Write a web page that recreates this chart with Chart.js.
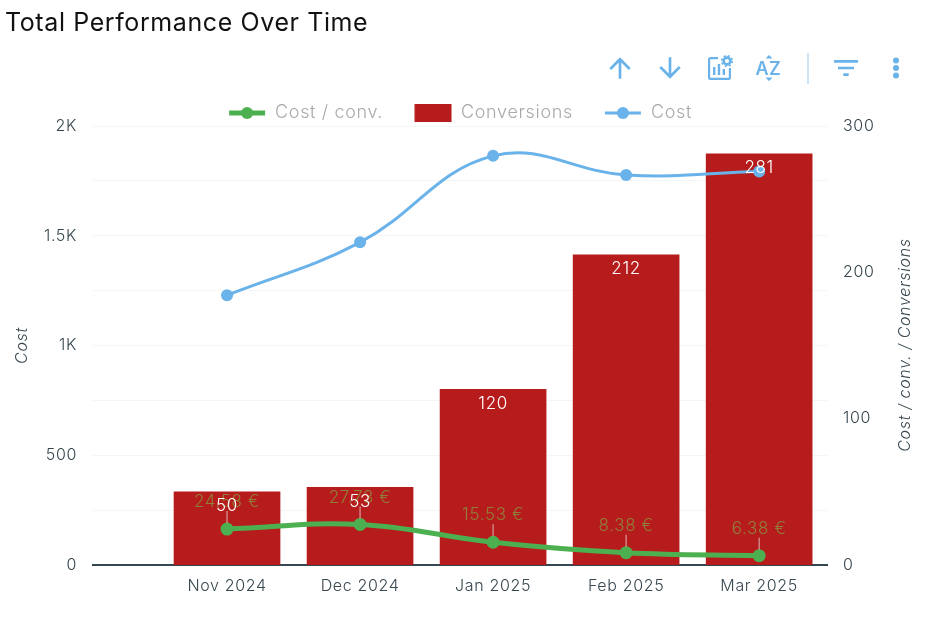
<!DOCTYPE html>
<html><head><meta charset="utf-8">
<script src="https://cdn.jsdelivr.net/npm/chart.js@4"></script>
<style>
html,body{margin:0;padding:0;background:#fff;width:943px;height:620px;overflow:hidden;font-family:Inter,sans-serif}
#wrap{position:relative;width:943px;height:620px}
canvas{position:absolute;left:0;top:0}
h1{position:absolute;left:5px;top:7px;margin:0;font:400 25px Inter,sans-serif;color:#111;letter-spacing:.6px;white-space:nowrap}
.ic{position:absolute;fill:#6ab3ea}
#div{position:absolute;left:807px;top:53px;width:2px;height:31px;background:#cfe3f2}
</style></head><body><div id="wrap">
<canvas id="c" width="943" height="620"></canvas>
<h1>Total Performance Over Time</h1>
<svg class="ic" style="left:604px;top:52px" width="32" height="32" viewBox="0 0 24 24"><path d="M4 12l1.41 1.41L11 7.83V20h2V7.83l5.58 5.59L20 12l-8-8-8 8z"/></svg>
<svg class="ic" style="left:654px;top:52px" width="32" height="32" viewBox="0 0 24 24"><path d="M20 12l-1.41-1.41L13 16.17V4h-2v12.17l-5.58-5.59L4 12l8 8 8-8z"/></svg>
<svg class="ic" style="left:706px;top:54px" width="28" height="28" viewBox="0 0 28 28"><path d="M12 3H4.500A2.500 2.500 0 0 0 2 5.500v18A2.500 2.500 0 0 0 4.500 26h18a2.500 2.500 0 0 0 2.500-2.500V14h-2.200v9.800H4.200V5.200H12z"/><rect x="7" y="13" width="2.400" height="8"/><rect x="11.800" y="10" width="2.400" height="11"/><rect x="16.600" y="15" width="2.400" height="6"/><circle cx="21" cy="7" r="3.400" fill="none" stroke="#6ab3ea" stroke-width="2.600"/><circle cx="21" cy="7" r="5.200" fill="none" stroke="#6ab3ea" stroke-width="1.800" stroke-dasharray="2 2.100"/></svg>
<svg class="ic" style="left:755px;top:54px" width="28" height="28" viewBox="0 0 28 28"><path d="M14 1l3.500 3.500h-7zM14 27l-3.500-3.500h7z"/><text x="0.500" y="21" font-family="Inter,sans-serif" font-weight="600" font-size="18">A</text><text x="14" y="21" font-family="Inter,sans-serif" font-weight="600" font-size="18">Z</text></svg>
<div id="div"></div>
<svg class="ic" style="left:830px;top:52px" width="32" height="32" viewBox="0 0 24 24"><path d="M10 18h4v-2h-4v2zM3 6v2h18V6H3zm3 7h12v-2H6v2z"/></svg>
<svg class="ic" style="left:882px;top:54px" width="28" height="28" viewBox="0 0 28 28"><circle cx="14" cy="6.500" r="3"/><circle cx="14" cy="14" r="3"/><circle cx="14" cy="21.500" r="3"/></svg>
</div>
<script>
const categories = ['Nov 2024','Dec 2024','Jan 2025','Feb 2025','Mar 2025'];
const costPerConv = [24.58,27.73,15.53,8.38,6.38];
const conversions = [50,53,120,212,281];
const cost = [1229,1470,1864,1777,1793];
const seriesNames = ['Cost / conv.','Conversions','Cost'];
const leftTickLabels = {0:'0',500:'500',1000:'1K',1500:'1.5K',2000:'2K'};
const axisTitleLeft = 'Cost';
const axisTitleRight = 'Cost / conv. / Conversions';
const GREEN='#4caf50', RED='#b71c1c', BLUE='#6ab3ea';
const FONT='Inter, sans-serif';
const SPACING='0.65px';

function icon(kind,color){
  const c=document.createElement('canvas');c.width=38;c.height=20;const x=c.getContext('2d');
  x.fillStyle=color;x.strokeStyle=color;
  if(kind==='rect'){x.fillRect(0.5,1,37,18);}
  else{x.lineWidth=color===GREEN?5:3;x.beginPath();x.moveTo(1,10);x.lineTo(37,10);x.stroke();x.beginPath();x.arc(19,10,6,0,7);x.fill();}
  return c;
}
const spacingPlugin={id:'spacingPlugin',
  beforeUpdate(chart){chart.ctx.letterSpacing=SPACING;},
  beforeLayout(chart){chart.ctx.letterSpacing=SPACING;},
  beforeDraw(chart){chart.ctx.letterSpacing=SPACING;}
};
const labelsPlugin={id:'labelsPlugin',
  afterDatasetsDraw(chart){
    const ctx=chart.ctx, {x:xs,yR}=chart.scales;
    ctx.save();ctx.textAlign='center';ctx.textBaseline='middle';ctx.font='300 17px '+FONT;
    costPerConv.forEach((v,i)=>{
      const px=xs.getPixelForValue(i),py=yR.getPixelForValue(v);
      ctx.strokeStyle='rgba(225,200,200,.75)';ctx.lineWidth=1.2;
      ctx.beginPath();ctx.moveTo(px,py-6);ctx.lineTo(px,py-18);ctx.stroke();
      ctx.fillStyle='#8f7f3a';ctx.fillText(v.toFixed(2)+' €',px,py-27);
    });
    conversions.forEach((v,i)=>{
      const px=xs.getPixelForValue(i),py=yR.getPixelForValue(v);
      ctx.fillStyle='#fff';ctx.fillText(String(v),px,py+14);
    });
    ctx.translate(905,345);ctx.rotate(-Math.PI/2);ctx.fillStyle='#37474f';ctx.font='italic 300 16px '+FONT;
    ctx.fillText(axisTitleRight,0,0);
    ctx.restore();
  }
};
const pts=a=>a.map((y,x)=>({x,y}));
new Chart(document.getElementById('c'),{
  type:'bar',
  data:{datasets:[
    {type:'line',label:seriesNames[0],data:pts(costPerConv),yAxisID:'yR',borderColor:GREEN,backgroundColor:GREEN,borderWidth:5,pointRadius:6.5,pointBorderWidth:0,tension:.4,order:1},
    {type:'bar',label:seriesNames[1],data:pts(conversions),yAxisID:'yR',backgroundColor:RED,barThickness:106,order:3},
    {type:'line',label:seriesNames[2],data:pts(cost),yAxisID:'yL',borderColor:BLUE,backgroundColor:BLUE,borderWidth:3,pointRadius:6,pointBorderWidth:0,tension:.4,order:2}
  ]},
  options:{
    responsive:false,animation:false,
    layout:{padding:{top:73,left:0,right:0,bottom:0}},
    plugins:{
      title:{display:false},tooltip:{enabled:false},
      legend:{position:'top',fullSize:false,maxHeight:53,labels:{usePointStyle:true,pointStyleWidth:38,boxHeight:20,padding:31,color:'#a9a9a9',font:{family:FONT,size:18,weight:'300'},
        generateLabels(chart){
          const kinds=[['line',GREEN],['rect',RED],['line',BLUE]];
          return chart.data.datasets.map((d,i)=>({text:d.label,datasetIndex:i,fontColor:'#a9a9a9',pointStyle:icon(kinds[i][0],kinds[i][1]),lineWidth:0,fillStyle:kinds[i][1],strokeStyle:kinds[i][1]}));
        }}}
    },
    scales:{
      x:{type:'linear',offset:false,min:-1.0075,max:4.51,
        afterBuildTicks(s){s.ticks=categories.map((_,i)=>({value:i}));},
        afterFit(s){s.height=55;},
        border:{color:'#37474f',width:2},grid:{display:false,drawTicks:false},
        ticks:{autoSkip:false,maxRotation:0,padding:12,color:'#37474f',font:{family:FONT,size:16,weight:'300'},callback:v=>categories[v]}},
      yL:{type:'linear',position:'left',min:0,max:2000,
        afterFit(s){s.width=93;},
        border:{display:false},grid:{color:'#f4f5f6',drawTicks:false},
        title:{display:true,text:axisTitleLeft,color:'#37474f',font:{family:FONT,size:16,style:'italic',weight:'300'},padding:{top:13,bottom:0}},
        ticks:{stepSize:250,autoSkip:false,padding:16,color:'#37474f',font:{family:FONT,size:16,weight:'300'},callback:v=>leftTickLabels[v]??''}},
      yR:{type:'linear',position:'right',min:0,max:300,
        afterFit(s){s.width=116;},
        border:{display:false},grid:{display:false,drawTicks:false},
        ticks:{stepSize:100,padding:16,color:'#37474f',font:{family:FONT,size:16,weight:'300'}}}
    }
  },
  plugins:[spacingPlugin,labelsPlugin]
});
</script></body></html>
